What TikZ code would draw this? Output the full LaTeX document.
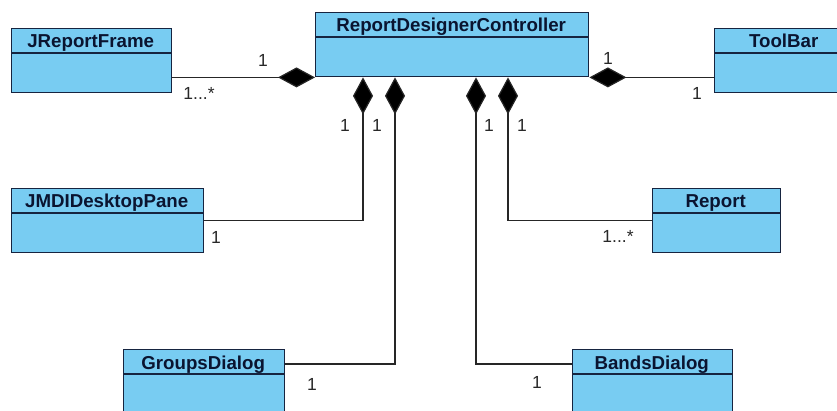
\documentclass[tikz,border=0pt]{standalone}
\usepackage{fontspec}
\setmainfont{Liberation Sans}
\usetikzlibrary{arrows.meta,calc}
\definecolor{clsfill}{RGB}{120,204,242}
\definecolor{clsline}{RGB}{22,36,64}
\definecolor{clstext}{RGB}{10,20,48}
\definecolor{multtext}{RGB}{40,40,40}

% UML class box: name, x, y (top left), width, height, title
\newcommand\umlclass[6]{%
  \node[cls, minimum width=#4, minimum height=#5] (#1) at (#2,#3) {};
  \draw[clsline, line width=1.4pt] ($(#1.north west)+(0,25)$) -- ($(#1.north east)+(0,25)$);
  \node[clstitle] (#1-t) at ($(#1.north)+(-1,20)$) {#6};
}

\begin{document}
\begin{tikzpicture}[x=1pt,y=-1pt,
  cls/.style={draw=clsline, fill=clsfill, line width=1.4pt, anchor=north west, inner sep=0pt},
  clstitle/.style={font=\bfseries\fontsize{18.7}{20}\selectfont, text=clstext, inner sep=0pt, anchor=base},
  mlabel/.style={font=\fontsize{17.5}{19}\selectfont, text=multtext, inner sep=0pt, anchor=base},
  assoc/.style={draw=black!85, line width=1.2pt},
  comp/.style={assoc, {Diamond[length=37pt,width=20pt,fill=black]}-}]

\useasboundingbox (0,0) rectangle (837,411);
\fill[white] (0,0) rectangle (837,411);
\clip (0,0) rectangle (837,411);

% classes
\umlclass{ctl}{315}{12}{273}{64}{ReportDesignerController}
\umlclass{jrf}{11}{28}{160}{64}{JReportFrame}
\umlclass{tb}{714}{28}{140}{64}{ToolBar}
\umlclass{jmdi}{11}{188}{192}{64}{JMDIDesktopPane}
\umlclass{rep}{652}{188}{128}{64}{Report}
\umlclass{gd}{123}{349}{161}{80}{GroupsDialog}
\umlclass{bd}{572}{349}{160}{80}{BandsDialog}

% attachment points on the controller's lower edge
\coordinate (c1) at ($(ctl.south west)+(48,0)$);
\coordinate (c2) at ($(ctl.south west)+(80,0)$);
\coordinate (c3) at ($(ctl.south west)+(161,0)$);
\coordinate (c4) at ($(ctl.south west)+(193,0)$);

% compositions
\draw[comp] (ctl.south west) -- (jrf.east |- ctl.south west);
\draw[comp] (ctl.south east) -- (tb.west |- ctl.south east);
\draw[comp] (c1) |- (jmdi.east);
\draw[comp] (c2) |- ($(gd.north east)+(0,15)$);
\draw[comp] (c3) |- ($(bd.north west)+(0,15)$);
\draw[comp] (c4) |- (rep.west);

% multiplicities
\node[mlabel] (m1) at (263,67) {1};
\node[mlabel] (m2) at (199,100) {1...*};
\node[mlabel] (m3) at (608,65) {1};
\node[mlabel] (m4) at (697,100) {1};
\node[mlabel] (m5) at (345,132) {1};
\node[mlabel] (m6) at (377,132) {1};
\node[mlabel] (m7) at (489,132) {1};
\node[mlabel] (m8) at (522,132) {1};
\node[mlabel] (m9) at (216,244) {1};
\node[mlabel] (m10) at (618,243) {1...*};
\node[mlabel] (m11) at (312,390) {1};
\node[mlabel] (m12) at (537,388) {1};
\end{tikzpicture}
\end{document}
